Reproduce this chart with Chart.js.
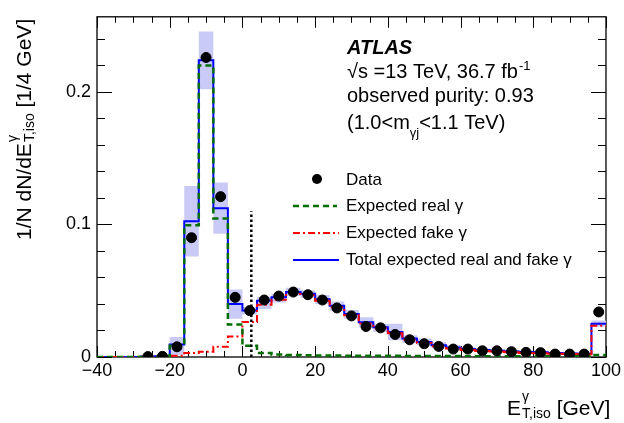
<!DOCTYPE html>
<html><head><meta charset="utf-8">
<script src="https://cdn.jsdelivr.net/npm/chart.js@4.4.0/dist/chart.umd.min.js"></script>
<style>html,body{margin:0;padding:0;background:#fff;}#wrap{width:624px;height:423px;}</style>
</head><body><div id="wrap"><canvas id="c" width="624" height="423"></canvas></div>
<script>
// ---- data ----
const binEdges = [-40,-36,-32,-28,-24,-20,-16,-12,-8,-4,0,4,8,12,16,20,24,28,32,36,40,44,48,52,56,60,64,68,72,76,80,84,88,92,96,100];
const totalExpected = [0,0,0,0.0003,0.0006,0.0095,0.1024,0.2240,0.1123,0.0400,0.0350,0.0424,0.0450,0.0490,0.0478,0.0436,0.0387,0.0325,0.0262,0.0225,0.0188,0.0139,0.0114,0.0089,0.0072,0.0060,0.0052,0.0047,0.0042,0.0037,0.0035,0.0030,0.0027,0.0025,0.0250];
const expectedReal = [0,0,0,0.0002,0.0004,0.0085,0.0994,0.2200,0.1046,0.0245,0.0085,0.0030,0.0018,0.0015,0.0013,0.0012,0.0011,0.0010,0.0010,0.0009,0.0009,0.0008,0.0008,0.0007,0.0007,0.0007,0.0006,0.0006,0.0006,0.0006,0.0006,0.0005,0.0005,0.0005,0.0015];
const expectedFake = [0,0,0,0.0001,0.0002,0.0010,0.0030,0.0040,0.0077,0.0155,0.0265,0.0394,0.0432,0.0475,0.0465,0.0424,0.0376,0.0315,0.0252,0.0216,0.0179,0.0131,0.0106,0.0082,0.0065,0.0053,0.0046,0.0041,0.0036,0.0031,0.0029,0.0025,0.0022,0.0020,0.0235];
const bandLow  = [0,0,0,0.0001,0.0002,0.0015,0.0758,0.2020,0.0930,0.0288,0.0320,0.0362,0.0411,0.0461,0.0448,0.0399,0.0349,0.0288,0.0225,0.0188,0.0126,0.0106,0.0089,0.0068,0.0056,0.0047,0.0041,0.0037,0.0033,0.0029,0.0027,0.0023,0.0020,0.0018,0.0230];
const bandHigh = [0,0,0,0.0005,0.0010,0.0151,0.1290,0.2456,0.1316,0.0510,0.0380,0.0453,0.0478,0.0523,0.0503,0.0468,0.0419,0.0355,0.0300,0.0250,0.0250,0.0164,0.0139,0.0112,0.0090,0.0073,0.0064,0.0058,0.0052,0.0046,0.0044,0.0038,0.0034,0.0032,0.0275];
const dataCenters = [-26,-22,-18,-14,-10,-6,-2,2,6,10,14,18,22,26,30,34,38,42,46,50,54,58,62,66,70,74,78,82,86,90,94,98];
const dataValues  = [0.0003,0.0005,0.0077,0.090,0.226,0.121,0.045,0.035,0.043,0.046,0.049,0.047,0.043,0.037,0.031,0.023,0.022,0.017,0.013,0.010,0.008,0.006,0.006,0.0047,0.0047,0.004,0.0035,0.0033,0.0022,0.0022,0.0022,0.034];
const purityCut = [2.45, 0.11]; // x position, height of dotted line
const xTickValues = [-40,-20,0,20,40,60,80,100];
const yTickValues = [0,0.1,0.2];
const xMinorStep = 5, yMinorStep = 0.02;

// ---- helpers ----
function stepPoints(vals){
  const pts = vals.map((v,i)=>({x:binEdges[i], y:v}));
  pts.push({x:binEdges[binEdges.length-1], y:vals[vals.length-1]});
  return pts;
}
const FONT = '"Liberation Sans", Arial, Helvetica, sans-serif';
Chart.defaults.font.family = FONT;
Chart.defaults.color = '#000';

const framePlugin = {
  id:'frame',
  beforeDatasetsDraw(chart){
    const {ctx, chartArea:a, scales:{x,y}} = chart;
    ctx.save();
    ctx.strokeStyle='#000'; ctx.lineWidth=1.3;
    ctx.strokeRect(a.left, a.top, a.right-a.left, a.bottom-a.top);
    ctx.lineWidth=1;
    ctx.beginPath();
    for(let v=x.min; v<=x.max+1e-9; v+=xMinorStep){
      const px=Math.round(x.getPixelForValue(v))+0.5;
      const L = (Math.abs(v%20)<1e-9)?11:6;
      ctx.moveTo(px,a.bottom); ctx.lineTo(px,a.bottom-L);
      ctx.moveTo(px,a.top); ctx.lineTo(px,a.top+L);
    }
    for(let i=0; i*yMinorStep<=y.max+1e-9; i++){
      const v=i*yMinorStep;
      const py=Math.round(y.getPixelForValue(v))+0.5;
      const L = (i%5===0)?15:8;
      ctx.moveTo(a.left,py); ctx.lineTo(a.left+L,py);
      ctx.moveTo(a.right,py); ctx.lineTo(a.right-L,py);
    }
    ctx.stroke();
    ctx.restore();
  },
  afterDraw(chart){
    const ctx = chart.ctx;
    ctx.save();
    ctx.fillStyle='#000';
    ctx.textBaseline='alphabetic'; ctx.textAlign='left';
    // ATLAS label block
    ctx.font='bold italic 20px '+FONT;
    ctx.fillText('ATLAS', 347, 54);
    ctx.font='20px '+FONT;
    let t='\u221As =13 TeV, 36.7 fb';
    ctx.fillText(t, 347, 78);
    let w=ctx.measureText(t).width;
    ctx.font='13px '+FONT; ctx.fillText('-1', 347+w+1, 70);
    ctx.font='20px '+FONT;
    ctx.fillText('observed purity: 0.93', 347, 102);
    t='(1.0<m'; ctx.fillText(t, 347, 129);
    w=ctx.measureText(t).width;
    ctx.font='13px '+FONT; ctx.fillText('\u03B3j', 347+w, 137);
    const w2=ctx.measureText('\u03B3j').width;
    ctx.font='20px '+FONT; ctx.fillText('<1.1 TeV)', 347+w+w2, 129);
    // legend
    ctx.beginPath(); ctx.arc(317,179,5,0,Math.PI*2); ctx.fill();
    ctx.lineWidth=2.5;
    ctx.strokeStyle='#006f00'; ctx.setLineDash([6,4]);
    ctx.beginPath(); ctx.moveTo(293,206); ctx.lineTo(337,206); ctx.stroke();
    ctx.lineWidth=2;
    ctx.strokeStyle='#ff0000'; ctx.setLineDash([7,3,2,3]);
    ctx.beginPath(); ctx.moveTo(293,233); ctx.lineTo(339,233); ctx.stroke();
    ctx.strokeStyle='#0000ff'; ctx.setLineDash([]);
    ctx.beginPath(); ctx.moveTo(293,260); ctx.lineTo(339,260); ctx.stroke();
    ctx.font='17px '+FONT; ctx.textBaseline='middle';
    ctx.fillText('Data', 346, 180);
    ctx.fillText('Expected real \u03B3', 346, 206);
    ctx.fillText('Expected fake \u03B3', 346, 233);
    ctx.fillText('Total expected real and fake \u03B3', 346, 260);
    // x axis title
    ctx.textBaseline='alphabetic';
    ctx.font='21px '+FONT;
    let xx=507; ctx.fillText('E', xx, 415); xx+=ctx.measureText('E').width+1;
    ctx.font='14px '+FONT;
    ctx.fillText('\u03B3', xx, 401);
    ctx.fillText('T,iso', xx, 418);
    xx+=ctx.measureText('T,iso').width;
    ctx.font='21px '+FONT; ctx.fillText(' [GeV]', xx, 415);
    // y axis title
    ctx.save();
    ctx.translate(30.5, 240); ctx.rotate(-Math.PI/2);
    ctx.font='21px '+FONT;
    let yy=0; t='1/N dN/dE'; ctx.fillText(t, yy, 0); yy+=ctx.measureText(t).width+1;
    ctx.font='14px '+FONT;
    ctx.fillText('\u03B3', yy, -14);
    ctx.fillText('T,iso', yy, 3);
    yy+=ctx.measureText('T,iso').width;
    ctx.font='21px '+FONT; ctx.fillText(' [1/4 GeV]', yy, 0);
    ctx.restore();
    ctx.restore();
  }
};

const ds = [
  {label:'Data', data:dataCenters.map((c,i)=>({x:c,y:dataValues[i]})), showLine:false,
   pointRadius:5, pointBackgroundColor:'#000', pointBorderColor:'#000', borderColor:'#000', order:0},
  {label:'cut', data:[{x:purityCut[0],y:0},{x:purityCut[0],y:purityCut[1]}], borderColor:'#000',
   borderWidth:2.5, borderDash:[2.5,2.5], pointRadius:0, order:1},
  {label:'Expected real', data:stepPoints(expectedReal), stepped:'before', borderColor:'#006f00',
   borderWidth:2.5, borderDash:[6,4], pointRadius:0, order:2},
  {label:'Expected fake', data:stepPoints(expectedFake), stepped:'before', borderColor:'#ff0000',
   borderWidth:2, borderDash:[7,3,2,3], pointRadius:0, order:3},
  {label:'Total', data:stepPoints(totalExpected), stepped:'before', borderColor:'#0000ff',
   borderWidth:2, pointRadius:0, order:4},
  {label:'bandHigh', data:stepPoints(bandHigh), stepped:'before', borderWidth:0, borderColor:'rgba(0,0,0,0)',
   pointRadius:0, fill:false, order:6},
  {label:'bandLow', data:stepPoints(bandLow), stepped:'before', borderWidth:0, borderColor:'rgba(0,0,0,0)',
   pointRadius:0, fill:'+1', backgroundColor:'#cacaf6', order:5}
];
const datasets = [ds[0],ds[1],ds[2],ds[3],ds[4],ds[6],ds[5]];

new Chart(document.getElementById('c'), {
  type:'line',
  data:{datasets},
  options:{
    responsive:false, animation:false,
    layout:{padding:{top:12,right:15,left:0,bottom:0}},
    plugins:{legend:{display:false}, tooltip:{enabled:false}},
    scales:{
      x:{type:'linear', min:-40, max:100,
         afterBuildTicks:s=>{s.ticks=xTickValues.map(v=>({value:v}));},
         afterFit:s=>{s.height=66;},
         grid:{display:false, drawTicks:false}, border:{display:false},
         ticks:{font:{size:18}, padding:3, maxRotation:0, autoSkip:false,
                callback:v=>v<0?'\u2212'+Math.abs(v):String(v)}},
      y:{type:'linear', min:0, max:0.2567,
         afterBuildTicks:s=>{s.ticks=yTickValues.map(v=>({value:v}));},
         afterFit:s=>{s.width=97;},
         grid:{display:false, drawTicks:false}, border:{display:false},
         ticks:{font:{size:18}, padding:6, callback:v=>String(Math.round(v*10)/10)}}
    }
  },
  plugins:[framePlugin]
});
</script></body></html>
